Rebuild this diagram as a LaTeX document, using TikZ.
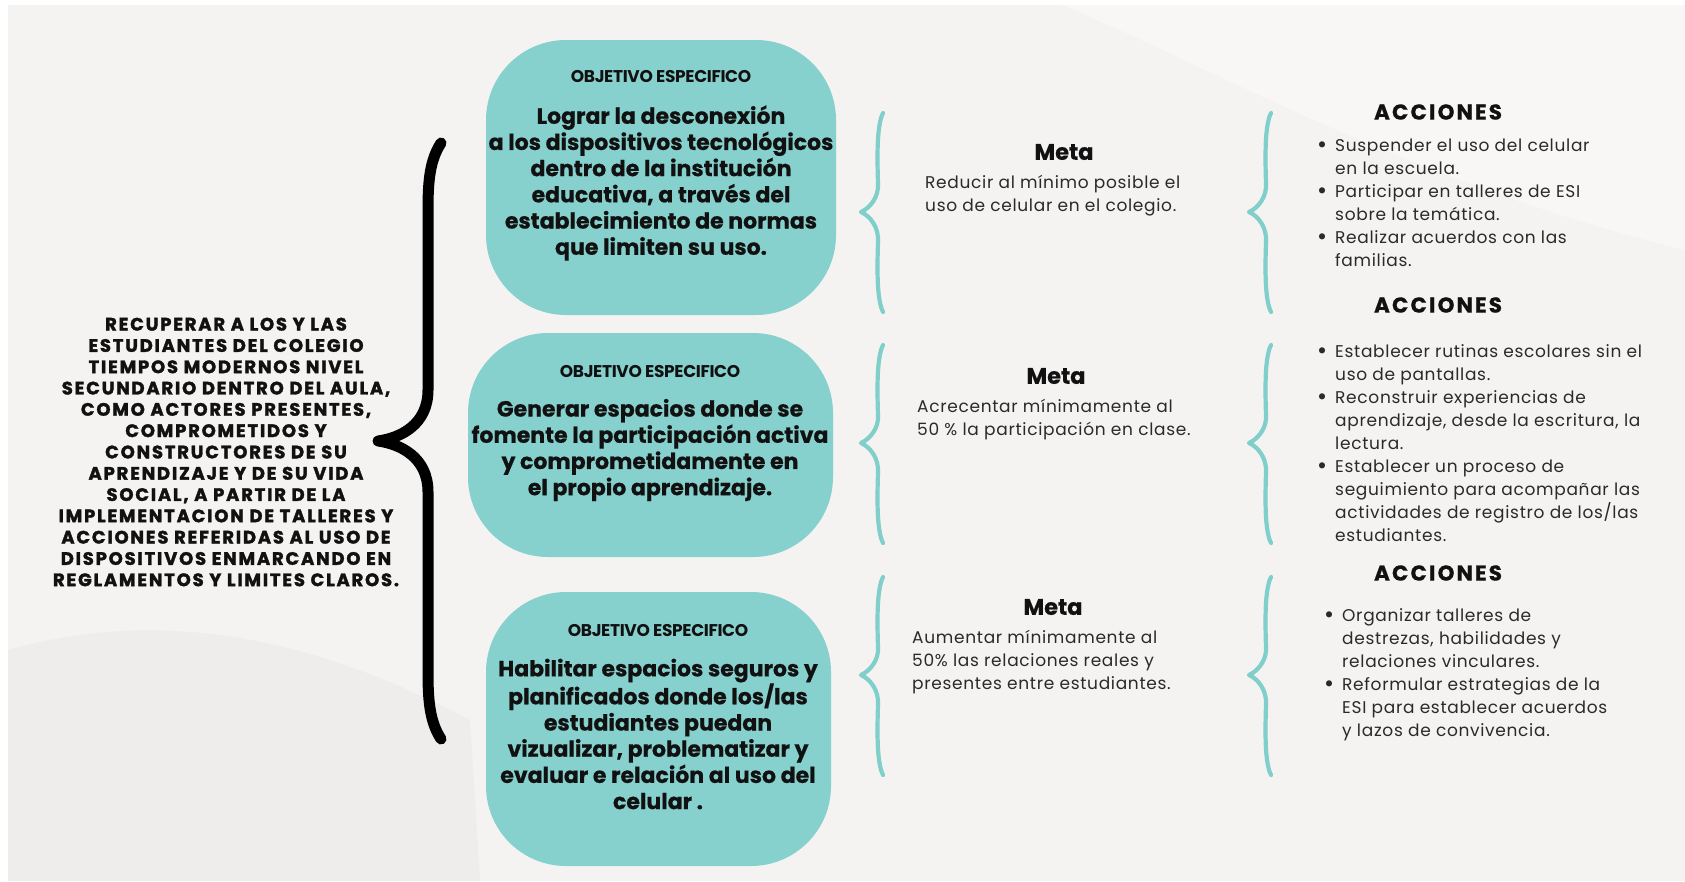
\documentclass[tikz,border=0pt]{standalone}
\usepackage{fontspec}
\setmainfont{Poppins}
\newfontfamily\capsfont[LetterSpace=10,FakeBold=1.8]{Poppins}
\newfontfamily\headfont[LetterSpace=-2]{Poppins}
\newfontfamily\objfont[FakeBold=0.6]{Poppins}
\newfontfamily\accfont[LetterSpace=10,FakeBold=0.6]{Poppins}
\newfontfamily\bodyfont[LetterSpace=4]{Poppins}
\definecolor{tealbox}{HTML}{86D1CE}
\definecolor{tealline}{HTML}{80CFCB}
\definecolor{bgc}{HTML}{F4F3F1}
\definecolor{ink}{HTML}{111111}
\definecolor{bodyc}{HTML}{2A2A2A}
\tikzset{
  objbox/.style={fill=tealbox, draw=none, rounded corners=80pt, inner sep=0pt},
  objhead/.style={font=\headfont\bfseries\fontsize{17}{20}\selectfont, text=ink, inner sep=0pt},
  objtext/.style={font=\objfont\bfseries\fontsize{22}{26.2}\selectfont, align=center, text=ink, inner sep=0pt},
  lefttext/.style={font=\capsfont\bfseries\fontsize{18}{21.3}\selectfont, align=center, text=ink, inner sep=0pt},
  goalhead/.style={font=\objfont\bfseries\fontsize{22.5}{26}\selectfont, text=ink, inner sep=0pt},
  goaltext/.style={font=\bodyfont\fontsize{17}{23}\selectfont, align=left, text=bodyc, inner sep=0pt},
  acchead/.style={font=\accfont\bfseries\fontsize{21.5}{24}\selectfont, text=ink, inner sep=0pt},
  acclist/.style={font=\bodyfont\fontsize{17}{23}\selectfont, align=left, text=bodyc, inner sep=0pt},
  tealbrace/.style={draw=tealline, line width=4.2pt, line cap=round, line join=round},
  blackbrace/.style={draw=black, line width=11pt, line cap=round, line join=round}
}
\newcommand{\bul}{\llap{{\bfseries\fontsize{20}{20}\selectfont\textbullet}\hspace{8pt}}}
\begin{document}
\begin{tikzpicture}[x=1pt,y=-1pt]
\useasboundingbox (0,0) rectangle (1685,881);
% background
\fill[bgc] (0,0) rectangle (1685,881);
\fill[white!35!bgc] (1050,0) .. controls (1200,60) and (1400,180) .. (1685,250) -- (1685,0) -- cycle;
\fill[black!2.5!bgc] (8,650) .. controls (150,610) and (300,630) .. (470,720) -- (480,881) -- (8,881) -- cycle;
\fill[white] (0,0) rectangle (1685,5);
\fill[white] (0,0) rectangle (8,881);

% left main text
\node[lefttext] (goal) at (226,452) {RECUPERAR A LOS Y LAS\\ESTUDIANTES DEL COLEGIO\\TIEMPOS MODERNOS NIVEL\\SECUNDARIO DENTRO DEL AULA,\\COMO ACTORES PRESENTES,\\COMPROMETIDOS Y\\CONSTRUCTORES DE SU\\APRENDIZAJE Y DE SU VIDA\\SOCIAL, A PARTIR DE LA\\IMPLEMENTACION DE TALLERES Y\\ACCIONES REFERIDAS AL USO DE\\DISPOSITIVOS ENMARCANDO EN\\REGLAMENTOS Y LIMITES CLAROS.};

% big black brace
\coordinate (bbtop) at (441,143);
\coordinate (bbtip) at (378,441);
\coordinate (bbbot) at (441,739);
\draw[blackbrace] (bbtop) .. controls (430,160) and (428,180) .. (428,210) -- (428,390) .. controls (428,425) and (400,438) .. (bbtip) .. controls (400,444) and (428,457) .. (428,492) -- (428,672) .. controls (428,702) and (430,722) .. (bbbot);

% objective boxes
\node[objbox, minimum width=350pt, minimum height=275pt] (b1) at (661,177.5) {};
\node[objbox, minimum width=365pt, minimum height=224pt] (b2) at (650.5,445) {};
\node[objbox, minimum width=345pt, minimum height=274pt] (b3) at (658.5,729) {};

\node[objhead] (h1) at (661,77) {OBJETIVO ESPECIFICO};
\node[objtext] (t1) at (661,183) {Lograr la desconexión\\a los dispositivos tecnológicos\\dentro de la institución\\educativa, a través del\\establecimiento de normas\\que limiten su uso.};
\node[objhead] (h2) at (650,372) {OBJETIVO ESPECIFICO};
\node[objtext] (t2) at (650,450) {Generar espacios donde se\\fomente la participación activa\\y comprometidamente en\\el propio aprendizaje.};
\node[objhead] (h3) at (658,630) {OBJETIVO ESPECIFICO};
\node[objtext] (t3) at (658,734) {Habilitar espacios seguros y\\planificados donde los/las\\estudiantes puedan\\vizualizar, problematizar y\\evaluar e relación al uso del\\celular .};

% teal braces (meta column and acciones column)
\foreach \yt/\ym/\yb/\n in {113/212/312/1,345/443/543/2,577/675/775/3}{
  \coordinate (mt\n) at (883,\yt);
  \coordinate (mb\n) at (883,\yb);
  \coordinate (mk\n) at (861,\ym);
  \draw[tealbrace] (mt\n) .. controls (877,\yt+12) and (877,\yt+40) .. (878,\yt+70) .. controls (879,\ym-15) and (870,\ym-4) .. (mk\n) .. controls (870,\ym+4) and (879,\ym+15) .. (878,\yb-70) .. controls (877,\yb-40) and (877,\yb-12) .. (mb\n);
  \coordinate (at\n) at (1271,\yt);
  \coordinate (ab\n) at (1271,\yb);
  \coordinate (ak\n) at (1249,\ym);
  \draw[tealbrace] (at\n) .. controls (1265,\yt+12) and (1265,\yt+40) .. (1266,\yt+70) .. controls (1267,\ym-15) and (1258,\ym-4) .. (ak\n) .. controls (1258,\ym+4) and (1267,\ym+15) .. (1266,\yb-70) .. controls (1265,\yb-40) and (1265,\yb-12) .. (ab\n);
}

% metas
\node[goalhead] (m1h) at (1064,152) {Meta};
\node[goaltext, anchor=west] (m1) at (925,195.5) {Reducir al mínimo posible el\\uso de celular en el colegio.};
\node[goalhead] (m2h) at (1056,376) {Meta};
\node[goaltext, anchor=west] (m2) at (917,419.5) {Acrecentar mínimamente al\\50 \% la participación en clase.};
\node[goalhead] (m3h) at (1053,607) {Meta};
\node[goaltext, anchor=west] (m3) at (912,662) {Aumentar mínimamente al\\50\% las relaciones reales y\\presentes entre estudiantes.};

% acciones
\node[acchead] (a1h) at (1438,112) {ACCIONES};
\node[acclist, anchor=west] (a1) at (1335,202.5) {\bul Suspender el uso del celular\\en la escuela.\\\bul Participar en talleres de ESI\\sobre la temática.\\\bul Realizar acuerdos con las\\familias.};
\node[acchead] (a2h) at (1438,305) {ACCIONES};
\node[acclist, anchor=west] (a2) at (1335,443) {\bul Establecer rutinas escolares sin el\\uso de pantallas.\\\bul Reconstruir experiencias de\\aprendizaje, desde la escritura, la\\lectura.\\\bul Establecer un proceso de\\seguimiento para acompañar las\\actividades de registro de los/las\\estudiantes.};
\node[acchead] (a3h) at (1438,573) {ACCIONES};
\node[acclist, anchor=west] (a3) at (1342,675) {\bul Organizar talleres de\\destrezas, habilidades y\\relaciones vinculares.\\\bul Reformular estrategias de la\\ESI para establecer acuerdos\\y lazos de convivencia.};
\end{tikzpicture}
\end{document}
